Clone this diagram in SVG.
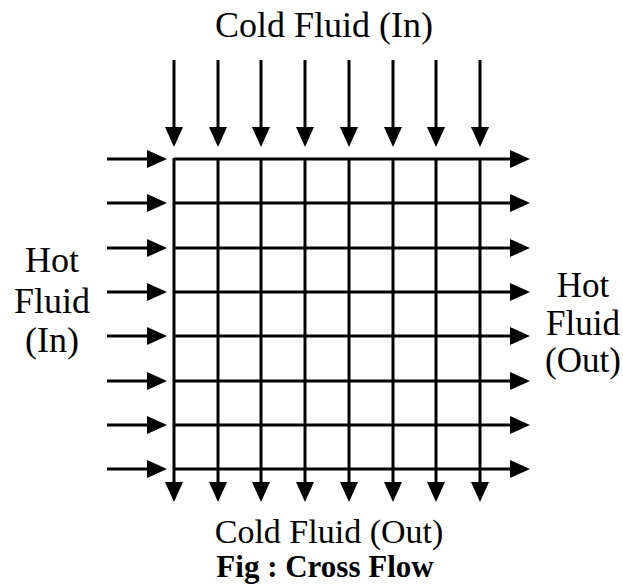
<svg xmlns="http://www.w3.org/2000/svg" width="623" height="586" viewBox="0 0 623 586">
<style>
  .ln { stroke:#000; stroke-width:3; fill:none; marker-end:url(#ah); }
  .t { font-family:"Liberation Serif","Times New Roman",serif; fill:#000; text-anchor:middle; }
</style>
<defs>
  <marker id="ah" markerUnits="userSpaceOnUse" markerWidth="20" markerHeight="18" refX="8" refY="9" orient="auto">
    <path d="M0,0 L20,9 L0,18 z" fill="#000"/>
  </marker>
</defs>
<rect width="623" height="586" fill="#fff"/>
<g id="connectors">
  <!-- cold fluid inlet arrows -->
  <line class="ln" x1="174" y1="60" x2="174" y2="135"/>
  <line class="ln" x1="218" y1="60" x2="218" y2="135"/>
  <line class="ln" x1="261" y1="60" x2="261" y2="135"/>
  <line class="ln" x1="305" y1="60" x2="305" y2="135"/>
  <line class="ln" x1="349" y1="60" x2="349" y2="135"/>
  <line class="ln" x1="393" y1="60" x2="393" y2="135"/>
  <line class="ln" x1="436" y1="60" x2="436" y2="135"/>
  <line class="ln" x1="480" y1="60" x2="480" y2="135"/>
  <!-- hot fluid inlet arrows -->
  <line class="ln" x1="107" y1="159" x2="155" y2="159"/>
  <line class="ln" x1="107" y1="203" x2="155" y2="203"/>
  <line class="ln" x1="107" y1="248" x2="155" y2="248"/>
  <line class="ln" x1="107" y1="292" x2="155" y2="292"/>
  <line class="ln" x1="107" y1="336" x2="155" y2="336"/>
  <line class="ln" x1="107" y1="381" x2="155" y2="381"/>
  <line class="ln" x1="107" y1="425" x2="155" y2="425"/>
  <line class="ln" x1="107" y1="469" x2="155" y2="469"/>
  <!-- hot fluid passages (out) -->
  <line class="ln" x1="174" y1="159" x2="518" y2="159"/>
  <line class="ln" x1="174" y1="203" x2="518" y2="203"/>
  <line class="ln" x1="174" y1="248" x2="518" y2="248"/>
  <line class="ln" x1="174" y1="292" x2="518" y2="292"/>
  <line class="ln" x1="174" y1="336" x2="518" y2="336"/>
  <line class="ln" x1="174" y1="381" x2="518" y2="381"/>
  <line class="ln" x1="174" y1="425" x2="518" y2="425"/>
  <line class="ln" x1="174" y1="469" x2="518" y2="469"/>
  <!-- cold fluid passages (out) -->
  <line class="ln" x1="174" y1="158" x2="174" y2="490"/>
  <line class="ln" x1="218" y1="158" x2="218" y2="490"/>
  <line class="ln" x1="261" y1="158" x2="261" y2="490"/>
  <line class="ln" x1="305" y1="158" x2="305" y2="490"/>
  <line class="ln" x1="349" y1="158" x2="349" y2="490"/>
  <line class="ln" x1="393" y1="158" x2="393" y2="490"/>
  <line class="ln" x1="436" y1="158" x2="436" y2="490"/>
  <line class="ln" x1="480" y1="158" x2="480" y2="490"/>
</g>
<g id="cold-in">
  <text class="t" x="324" y="37" font-size="36">Cold Fluid (In)</text>
</g>
<g id="hot-in">
  <text class="t" x="52" y="272" font-size="36">Hot</text>
  <text class="t" x="52" y="313" font-size="36">Fluid</text>
  <text class="t" x="52" y="352" font-size="36">(In)</text>
</g>
<g id="hot-out">
  <text class="t" x="583" y="297" font-size="35">Hot</text>
  <text class="t" x="583" y="335" font-size="35">Fluid</text>
  <text class="t" x="583" y="372" font-size="35">(Out)</text>
</g>
<g id="cold-out">
  <text class="t" x="329" y="543" font-size="34">Cold Fluid (Out)</text>
</g>
<g id="caption">
  <text class="t" x="325" y="577" font-size="31" font-weight="bold">Fig : Cross Flow</text>
</g>
</svg>
